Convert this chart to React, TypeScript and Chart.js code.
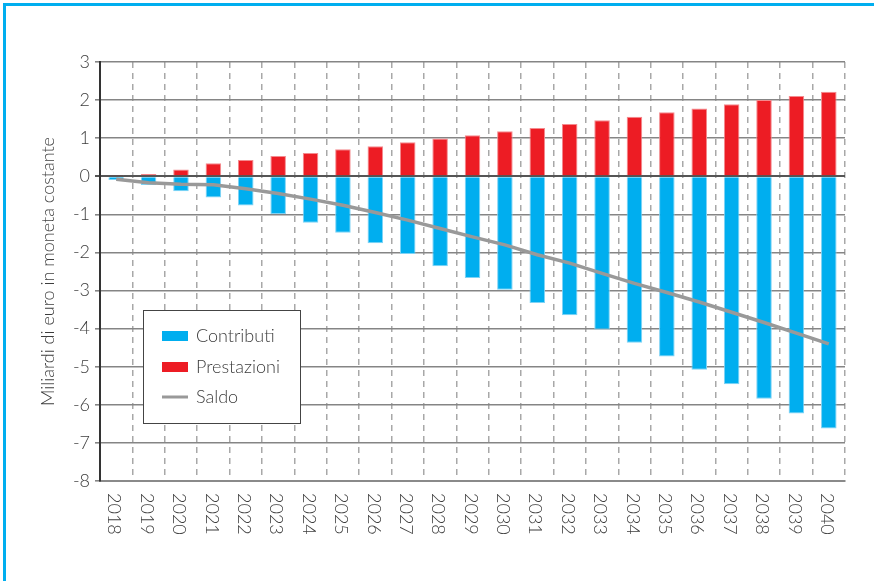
import React, { useEffect, useRef } from "react";
import { Chart, registerables } from "chart.js";

Chart.register(...registerables);

const years = [
  "2018", "2019", "2020", "2021", "2022", "2023", "2024", "2025", "2026", "2027", "2028", "2029",
  "2030", "2031", "2032", "2033", "2034", "2035", "2036", "2037", "2038", "2039", "2040",
];

const contributi = [
  -0.1, -0.23, -0.39, -0.56, -0.77, -0.99, -1.22, -1.48, -1.76, -2.04, -2.36, -2.67,
  -2.98, -3.33, -3.65, -4.02, -4.37, -4.73, -5.08, -5.46, -5.84, -6.23, -6.62,
];

const prestazioni = [
  0.02, 0.06, 0.18, 0.34, 0.43, 0.53, 0.61, 0.71, 0.79, 0.89, 0.99, 1.08,
  1.18, 1.27, 1.37, 1.47, 1.56, 1.68, 1.78, 1.89, 2.0, 2.11, 2.22,
];

const saldo = [
  -0.08, -0.17, -0.21, -0.22, -0.33, -0.45, -0.6, -0.76, -0.95, -1.15, -1.37, -1.59,
  -1.8, -2.06, -2.28, -2.55, -2.81, -3.05, -3.3, -3.57, -3.84, -4.12, -4.4,
];

const Y_MIN = -8;
const Y_MAX = 3;
const Y_TITLE = "Miliardi di euro in moneta costante";

const FONT = "Lato, 'Open Sans', sans-serif";
const TEXT = "#3c3c3c";
const BLUE = "#00AEEF";
const RED = "#ED1C24";
const GRAY = "#999999";

const xLabelPlugin = {
  id: "xLabelsRotated",
  afterDraw(chart: any) {
    const { ctx, chartArea } = chart;
    const x = chart.scales.x;
    const labels: string[] = chart.data.labels;
    ctx.save();
    ctx.font = `300 18px ${FONT}`;
    ctx.fillStyle = TEXT;
    ctx.textAlign = "left";
    ctx.textBaseline = "middle";
    labels.forEach((label, i) => {
      const px = x.getPixelForValue(i);
      ctx.save();
      ctx.translate(px - 2, chartArea.bottom + 12);
      ctx.rotate(Math.PI / 2);
      ctx.fillText(label, 0, 0);
      ctx.restore();
    });
    ctx.restore();
  },
};

const legendPlugin = {
  id: "insideLegend",
  afterDraw(chart: any) {
    const { ctx, chartArea } = chart;
    const left = chartArea.left + 43;
    const top = chartArea.top + 248;
    const w = 157;
    const h = 113;
    ctx.save();
    ctx.fillStyle = "#ffffff";
    ctx.fillRect(left, top, w, h);
    ctx.strokeStyle = "#444444";
    ctx.lineWidth = 1;
    ctx.strokeRect(left + 0.5, top + 0.5, w, h);
    const ds = chart.data.datasets;
    const rows = [26, 57, 87];
    ctx.font = `300 18px ${FONT}`;
    ctx.textAlign = "left";
    ctx.textBaseline = "middle";
    ds.forEach((d: any, i: number) => {
      const cy = top + rows[i];
      if (d.type === "line") {
        ctx.strokeStyle = d.borderColor;
        ctx.lineWidth = 3;
        ctx.beginPath();
        ctx.moveTo(left + 19, cy);
        ctx.lineTo(left + 45, cy);
        ctx.stroke();
      } else {
        ctx.fillStyle = d.backgroundColor;
        ctx.fillRect(left + 19, cy - 5, 26, 10);
      }
      ctx.fillStyle = TEXT;
      ctx.fillText(d.label, left + 53, cy);
    });
    ctx.restore();
  },
};

function App() {
  const ref = useRef<HTMLCanvasElement | null>(null);

  useEffect(() => {
    if (!ref.current) return;
    const chart = new Chart(ref.current, {
      type: "bar",
      data: {
        labels: years,
        datasets: [
          {
            type: "bar",
            label: "Contributi",
            data: contributi,
            backgroundColor: BLUE,
            borderColor: "#7fd3f5",
            borderWidth: 1,
            barPercentage: 0.48,
            categoryPercentage: 1,
            order: 2,
          },
          {
            type: "bar",
            label: "Prestazioni",
            data: prestazioni,
            backgroundColor: RED,
            borderColor: "#f48a8e",
            borderWidth: 1,
            barPercentage: 0.48,
            categoryPercentage: 1,
            order: 1,
          },
          {
            type: "line",
            label: "Saldo",
            data: saldo,
            borderColor: GRAY,
            backgroundColor: GRAY,
            borderWidth: 3.5,
            pointRadius: 0,
            tension: 0,
            order: 0,
          } as any,
        ],
      },
      options: {
        responsive: false,
        animation: false,
        layout: { padding: { top: 62, right: 29, left: 0, bottom: 0 } },
        plugins: {
          legend: { display: false },
          tooltip: { enabled: false },
        },
        scales: {
          x: {
            stacked: true,
            offset: true,
            afterFit: (s: any) => {
              s.height = 100;
            },
            ticks: { display: false },
            grid: {
              offset: true,
              color: "#a8a8a8",
              lineWidth: 1.5,
              drawTicks: false,
            },
            border: { display: true, color: "#8a8a8a", width: 2, dash: [6, 5] },
          },
          y: {
            stacked: false,
            min: Y_MIN,
            max: Y_MAX,
            afterFit: (s: any) => {
              s.width = 100;
            },
            ticks: {
              stepSize: 1,
              padding: 5,
              color: TEXT,
              font: { family: FONT, size: 18, weight: "300" as any },
            },
            grid: {
              color: (c: any) => (c.tick && c.tick.value === 0 ? "#555555" : "#858585"),
              lineWidth: (c: any) => (c.tick && c.tick.value === 0 ? 2 : 1.6),
              tickLength: 5,
            },
            border: { display: true, color: "#333333", width: 2 },
            title: {
              display: true,
              text: Y_TITLE,
              color: TEXT,
              font: { family: FONT, size: 18, weight: "300" as any },
              padding: { top: 37, bottom: 0 },
            },
          },
        },
      },
      plugins: [legendPlugin, xLabelPlugin],
    });
    return () => chart.destroy();
  }, []);

  return (
    <div style={{ position: "fixed", left: 0, top: 0, width: 874, height: 581, overflow: "hidden", background: "#fff" }}>
      <div
        style={{
          position: "absolute",
          left: 3,
          top: 3,
          width: 900,
          height: 620,
          border: `3px solid ${BLUE}`,
          boxSizing: "border-box",
        }}
      />
      <canvas
        ref={ref}
        width={874}
        height={581}
        style={{ position: "absolute", left: 0, top: 0, width: 874, height: 581 }}
      />
    </div>
  );
}

export default App;
